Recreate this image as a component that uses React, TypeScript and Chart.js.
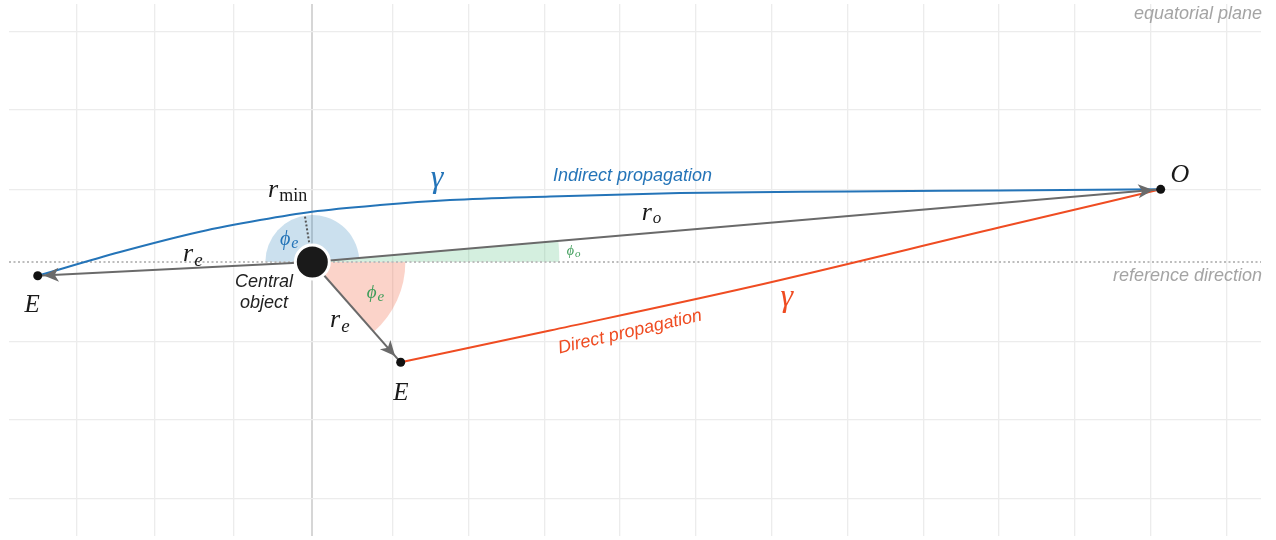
import { useEffect, useRef } from 'react';
import { Chart, registerables } from 'chart.js';

Chart.register(...registerables);

// ---- grid (data units: centre object at origin) ----
const GRID_X = [-3.105, -2.07, -1.039, 0, 1.053, 2.053, 3.053, 4.045, 5.045, 6.039, 7.042, 8.039, 9.032, 10.032, 11.026, 12.026];
const GRID_Y = [2.953, 1.949, 0.932, -1.022, -2.026, -3.038];
const X_RANGE = [-3.991, 12.483];
const Y_RANGE = [-3.513, 3.308];

// ---- key points ----
const CENTRAL = { x: 0, y: 0 };
const OBSERVER = { x: 11.163, y: 0.932 };
const EMITTER_INDIRECT = { x: -3.613, y: -0.176 };
const EMITTER_DIRECT = { x: 1.163, y: -1.286 };
const R_MIN_POINT = { x: -0.096, y: 0.581 };

// ---- light paths ----
const INDIRECT_X = [-3.613, -2.53, -1.478, -0.688, -0.004, 0.891, 1.812, 3.128, 4.838, 7.075, 9.049, 11.163];
const INDIRECT_Y = [-0.176, 0.128, 0.388, 0.538, 0.645, 0.731, 0.795, 0.84, 0.885, 0.904, 0.917, 0.932];
const DIRECT_X = [1.163, 3.128, 5.759, 9.049, 11.163];
const DIRECT_Y = [-1.286, -0.878, -0.321, 0.445, 0.932];

// ---- angle sectors (radius in x units) ----
const SECTOR_RADII = { indirect: 0.618, direct: 1.224, observer: 3.25 };

const BLUE = '#2474b8';
const RED = '#ef4c22';
const GRAY = '#6a6a6a';
const GREEN = '#3f9d5a';
const SANS = '"Liberation Sans", Arial, sans-serif';
const SERIF = '"Liberation Serif", "DejaVu Serif", serif';

const zip = (xs: number[], ys: number[]) => xs.map((x, i) => ({ x, y: ys[i] }));

function sector(ctx: CanvasRenderingContext2D, c: any, r: number, a0: number, a1: number, anti: boolean, color: string) {
  ctx.beginPath();
  ctx.moveTo(c.x, c.y);
  ctx.arc(c.x, c.y, r, a0, a1, anti);
  ctx.closePath();
  ctx.fillStyle = color;
  ctx.fill();
}

function arrowHead(ctx: CanvasRenderingContext2D, from: any, to: any, offset: number) {
  const dx = to.x - from.x, dy = to.y - from.y;
  const L = Math.hypot(dx, dy);
  const ux = dx / L, uy = dy / L;
  const nx = -uy, ny = ux;
  const len = 15, half = 7, notch = 4;
  const tx = to.x - ux * offset, ty = to.y - uy * offset;
  const bx = tx - ux * len, by = ty - uy * len;
  ctx.beginPath();
  ctx.moveTo(tx, ty);
  ctx.lineTo(bx + nx * half, by + ny * half);
  ctx.lineTo(tx - ux * (len - notch), ty - uy * (len - notch));
  ctx.lineTo(bx - nx * half, by - ny * half);
  ctx.closePath();
  ctx.fillStyle = GRAY;
  ctx.fill();
}

function mathLabel(ctx: CanvasRenderingContext2D, p: any, base: string, sub: string, color: string, size: number, subSize: number, drop: number, upright = false) {
  ctx.fillStyle = color;
  ctx.textAlign = 'left';
  ctx.textBaseline = 'alphabetic';
  ctx.font = `italic ${size}px ${SERIF}`;
  ctx.fillText(base, p.x, p.y);
  const w = ctx.measureText(base).width;
  ctx.font = `${upright ? '' : 'italic '}${subSize}px ${SERIF}`;
  ctx.fillText(sub, p.x + w + 1, p.y + drop);
}

function text(ctx: CanvasRenderingContext2D, p: any, s: string, font: string, color: string, align: CanvasTextAlign, baseline: CanvasTextBaseline = 'alphabetic') {
  ctx.font = font;
  ctx.fillStyle = color;
  ctx.textAlign = align;
  ctx.textBaseline = baseline;
  ctx.fillText(s, p.x, p.y);
}

const diagramPlugin = {
  id: 'diagram',
  beforeDatasetsDraw(chart: any) {
    const { ctx, scales } = chart;
    const xs = scales.x, ys = scales.y;
    const P = (p: any) => ({ x: xs.getPixelForValue(p.x), y: ys.getPixelForValue(p.y) });
    const R = (r: number) => xs.getPixelForValue(r) - xs.getPixelForValue(0);
    const c = P(CENTRAL), o = P(OBSERVER), e2 = P(EMITTER_DIRECT);
    const aO = Math.atan2(o.y - c.y, o.x - c.x);
    const aE = Math.atan2(e2.y - c.y, e2.x - c.x);
    ctx.save();
    sector(ctx, c, R(SECTOR_RADII.observer), aO, 0, false, 'rgba(60,180,110,0.22)');
    sector(ctx, c, R(SECTOR_RADII.indirect), aO, Math.PI, true, 'rgba(31,119,180,0.23)');
    sector(ctx, c, R(SECTOR_RADII.direct), 0, aE, false, 'rgba(240,80,40,0.25)');
    ctx.restore();
  },
  afterDatasetsDraw(chart: any) {
    const { ctx, scales } = chart;
    const xs = scales.x, ys = scales.y;
    const P = (p: any) => ({ x: xs.getPixelForValue(p.x), y: ys.getPixelForValue(p.y) });
    const c = P(CENTRAL);
    ctx.save();
    arrowHead(ctx, c, P(OBSERVER), 7.5);
    arrowHead(ctx, c, P(EMITTER_INDIRECT), 6);
    arrowHead(ctx, c, P(EMITTER_DIRECT), 8.5);

    const L = (x: number, y: number) => P({ x, y });
    text(ctx, L(12.496, 3.11), 'equatorial plane', `italic 18px ${SANS}`, '#a4a4a4', 'right');
    text(ctx, L(12.496, -0.244), 'reference direction', `italic 18px ${SANS}`, '#a4a4a4', 'right');
    text(ctx, L(3.167, 1.042), 'Indirect propagation', `italic 18px ${SANS}`, BLUE, 'left');
    const dp = L(4.18, -0.897);
    ctx.save();
    ctx.translate(dp.x, dp.y);
    ctx.rotate((-13 * Math.PI) / 180);
    text(ctx, { x: 0, y: 0 }, 'Direct propagation', `italic 18px ${SANS}`, RED, 'center', 'middle');
    ctx.restore();
    text(ctx, L(-0.636, -0.317), 'Central', `italic 18px ${SANS}`, '#222', 'center');
    text(ctx, L(-0.636, -0.594), 'object', `italic 18px ${SANS}`, '#222', 'center');

    text(ctx, L(11.416, 1.032), 'O', `italic 26px ${SERIF}`, '#1a1a1a', 'center');
    text(ctx, L(-3.686, -0.637), 'E', `italic 25px ${SERIF}`, '#1a1a1a', 'center');
    text(ctx, L(1.167, -1.769), 'E', `italic 25px ${SERIF}`, '#1a1a1a', 'center');
    text(ctx, L(1.641, 0.956), 'γ', `italic 32px ${SERIF}`, BLUE, 'center');
    text(ctx, L(6.243, -0.56), 'γ', `italic 32px ${SERIF}`, RED, 'center');

    mathLabel(ctx, L(-0.582, 0.837), 'r', 'min', '#1a1a1a', 26, 18, 4, true);
    mathLabel(ctx, L(-1.701, 0.01), 'r', 'e', '#1a1a1a', 26, 19, 5);
    mathLabel(ctx, L(0.233, -0.829), 'r', 'e', '#1a1a1a', 26, 19, 5);
    mathLabel(ctx, L(4.334, 0.538), 'r', 'o', '#1a1a1a', 26, 17, 3);
    mathLabel(ctx, L(-0.425, 0.215), 'ϕ', 'e', BLUE, 20, 16, 3);
    mathLabel(ctx, L(0.716, -0.464), 'ϕ', 'e', GREEN, 19, 15, 3);
    mathLabel(ctx, L(3.347, 0.096), 'ϕ', 'o', GREEN, 14, 11, 2);
    ctx.restore();
  },
};

const lineDs = (data: any[], color: string, width: number, order: number, extra: any = {}) => ({
  data,
  showLine: true,
  borderColor: color,
  borderWidth: width,
  pointRadius: 0,
  fill: false,
  order,
  ...extra,
});

export default function App() {
  const ref = useRef<HTMLCanvasElement>(null);
  useEffect(() => {
    const gridOpts = {
      drawTicks: false,
      color: (ctx: any) => (ctx.tick && ctx.tick.value === 0 ? '#d6d6d6' : '#ececec'),
      lineWidth: (ctx: any) => (ctx.tick && ctx.tick.value === 0 ? 2 : 1.3),
    };
    const chart = new Chart(ref.current as HTMLCanvasElement, {
      type: 'scatter',
      data: {
        datasets: [
          lineDs([{ x: X_RANGE[0], y: 0 }, { x: X_RANGE[1], y: 0 }], '#bdbdbd', 2, 20, { borderDash: [2, 2.5] }),
          lineDs(zip(INDIRECT_X, INDIRECT_Y), BLUE, 2, 10, { cubicInterpolationMode: 'monotone' }),
          lineDs(zip(DIRECT_X, DIRECT_Y), RED, 2, 10, { cubicInterpolationMode: 'monotone' }),
          lineDs([CENTRAL, OBSERVER], GRAY, 2, 8),
          lineDs([CENTRAL, EMITTER_INDIRECT], GRAY, 2, 8),
          lineDs([CENTRAL, EMITTER_DIRECT], GRAY, 2, 8),
          lineDs([CENTRAL, R_MIN_POINT], '#555', 2, 7, { borderDash: [2, 2] }),
          {
            data: [OBSERVER, EMITTER_INDIRECT, EMITTER_DIRECT],
            showLine: false,
            pointRadius: 4.5,
            pointBackgroundColor: '#111',
            pointBorderWidth: 0,
            order: 2,
          },
          {
            data: [CENTRAL],
            showLine: false,
            pointRadius: 17,
            pointBackgroundColor: '#1a1a1a',
            pointBorderColor: '#ffffff',
            pointBorderWidth: 3,
            order: 1,
          },
        ] as any,
      },
      options: {
        animation: false,
        responsive: true,
        maintainAspectRatio: false,
        events: [],
        layout: { autoPadding: false, padding: { left: 9, right: 15, top: 4, bottom: 4 } },
        plugins: { legend: { display: false }, tooltip: { enabled: false } },
        scales: {
          x: {
            type: 'linear',
            min: X_RANGE[0],
            max: X_RANGE[1],
            afterBuildTicks: (axis: any) => {
              axis.ticks = GRID_X.map((v) => ({ value: v }));
            },
            ticks: { display: false },
            border: { display: false },
            grid: gridOpts as any,
          },
          y: {
            type: 'linear',
            min: Y_RANGE[0],
            max: Y_RANGE[1],
            afterBuildTicks: (axis: any) => {
              axis.ticks = GRID_Y.map((v) => ({ value: v }));
            },
            ticks: { display: false },
            border: { display: false },
            grid: gridOpts as any,
          },
        },
      },
      plugins: [diagramPlugin],
    });
    return () => chart.destroy();
  }, []);
  return (
    <div style={{ position: 'fixed', left: 0, top: 0, width: 1276, height: 540, background: '#fff' }}>
      <canvas ref={ref} />
    </div>
  );
}
